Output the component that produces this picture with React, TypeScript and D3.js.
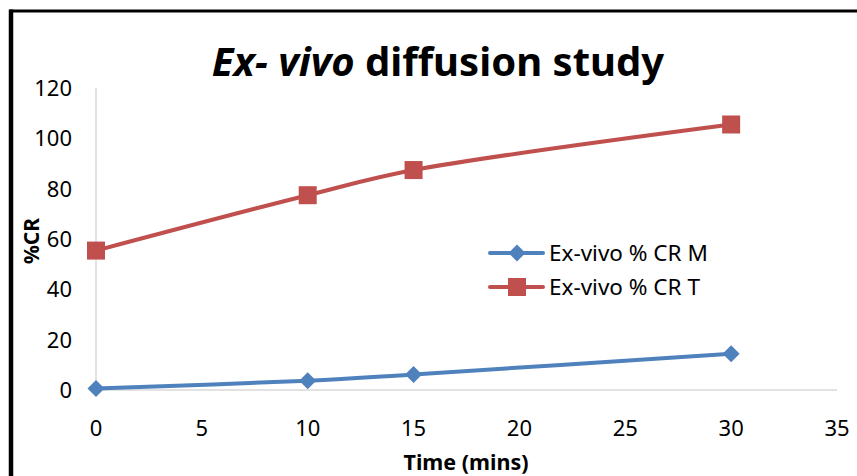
import React from "react";
import * as d3 from "d3";

// Sampling times (minutes)
const times = [0, 10, 15, 30];
// Cumulative release (%CR) for each formulation
const seriesM = [0.6, 3.7, 6.2, 14.4];
const seriesT = [55.4, 77.4, 87.4, 105.5];
const seriesNames = ["Ex-vivo % CR M", "Ex-vivo % CR T"];
const seriesColors = ["#4f81bd", "#c0504d"];
const xTicks = [0, 5, 10, 15, 20, 25, 30, 35];
const yTicks = [0, 20, 40, 60, 80, 100, 120];

const W = 857;
const H = 476;
const FONT = "'Noto Sans', 'Open Sans', sans-serif";

export default function App() {
  const x = d3.scaleLinear().domain([0, 35]).range([96, 837]);
  const y = d3.scaleLinear().domain([0, 120]).range([390, 88]);

  const line = d3
    .line<[number, number]>()
    .x((d) => x(d[0]))
    .y((d) => y(d[1]))
    .curve(d3.curveCatmullRom.alpha(0.5));

  const ptsM = times.map((t, i) => [t, seriesM[i]] as [number, number]);
  const ptsT = times.map((t, i) => [t, seriesT[i]] as [number, number]);

  const diamond = (cx: number, cy: number, r: number) =>
    `M${cx},${cy - r}L${cx + r},${cy}L${cx},${cy + r}L${cx - r},${cy}Z`;

  return (
    <svg
      width={W}
      height={H}
      style={{ position: "absolute", left: 0, top: 0, background: "#fff" }}
      fontFamily={FONT}
    >
      {/* chart frame */}
      <rect x={11} y={11} width={855} height={480} fill="#fff" stroke="#000" strokeWidth={3} />
      <line x1={11} y1={9.5} x2={11} y2={H} stroke="#000" strokeWidth={4.5} />

      {/* title */}
      <text x={438} y={76} textAnchor="middle" fontSize={40} fontWeight="bold" fill="#000">
        <tspan fontStyle="italic">Ex- vivo</tspan>
        <tspan> diffusion study</tspan>
      </text>

      {/* axes */}
      <line x1={x(0)} y1={y(120)} x2={x(0)} y2={y(0)} stroke="#d9d9d9" strokeWidth={1.5} />
      <line x1={x(0)} y1={y(0)} x2={x(35)} y2={y(0)} stroke="#d9d9d9" strokeWidth={1.5} />

      {yTicks.map((t) => (
        <text key={"y" + t} x={72} y={y(t)} dy="0.36em" textAnchor="end" fontSize={22} fill="#000">
          {t}
        </text>
      ))}
      {xTicks.map((t) => (
        <text key={"x" + t} x={x(t)} y={428} dy="0.36em" textAnchor="middle" fontSize={22} fill="#000">
          {t}
        </text>
      ))}

      {/* axis titles */}
      <text x={466} y={470} textAnchor="middle" fontSize={21.5} fontWeight="bold" fill="#000">
        Time (mins)
      </text>
      <text
        transform={`translate(39,241) rotate(-90)`}
        textAnchor="middle"
        fontSize={21}
        fontWeight="bold"
        fill="#000"
      >
        %CR
      </text>

      {/* series lines */}
      <path d={line(ptsM) || ""} fill="none" stroke={seriesColors[0]} strokeWidth={4} />
      <path d={line(ptsT) || ""} fill="none" stroke={seriesColors[1]} strokeWidth={4} />

      {/* markers */}
      {ptsM.map((p, i) => (
        <path key={"m" + i} d={diamond(x(p[0]), y(p[1]), 8.5)} fill={seriesColors[0]} />
      ))}
      {ptsT.map((p, i) => (
        <rect
          key={"t" + i}
          x={x(p[0]) - 9}
          y={y(p[1]) - 9}
          width={18}
          height={18}
          fill={seriesColors[1]}
        />
      ))}

      {/* legend */}
      {seriesNames.map((name, i) => {
        const ly = 253 + i * 34;
        return (
          <g key={name}>
            <line x1={490} y1={ly} x2={543} y2={ly} stroke={seriesColors[i]} strokeWidth={4} strokeLinecap="round" />
            {i === 0 ? (
              <path d={diamond(517, ly, 8.5)} fill={seriesColors[i]} />
            ) : (
              <rect x={508} y={ly - 9} width={18} height={18} fill={seriesColors[i]} />
            )}
            <text x={549} y={ly} dy="0.36em" fontSize={22.5} fill="#000">
              {name}
            </text>
          </g>
        );
      })}
    </svg>
  );
}
